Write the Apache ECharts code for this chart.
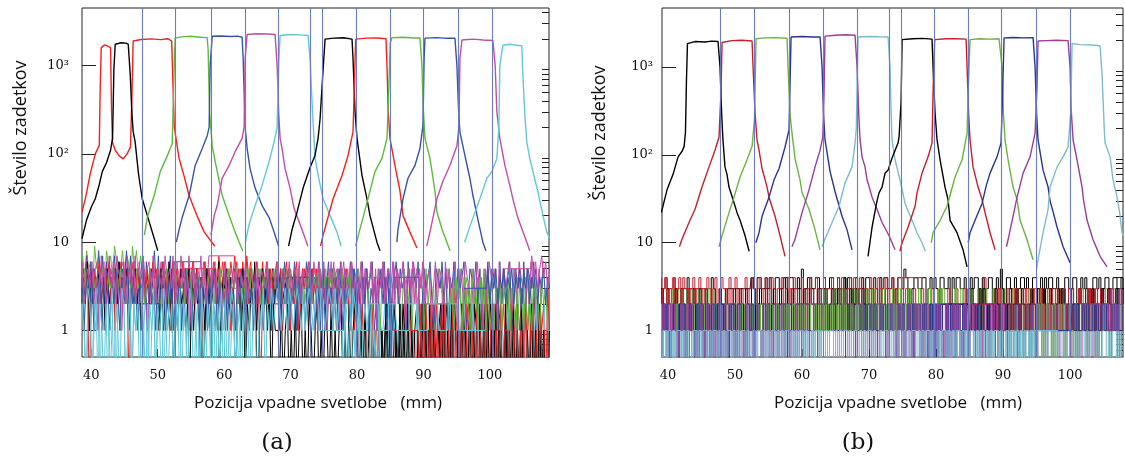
<!DOCTYPE html>
<html><head><meta charset="utf-8">
<script src="https://cdn.jsdelivr.net/npm/echarts@6/dist/echarts.min.js"></script>
<style>html,body{margin:0;padding:0;background:#fff}#c{width:1125px;height:460px}</style>
</head><body><div id="c"></div>
<script>
// ---------- data ----------
const xTicks = [40, 50, 60, 70, 80, 90, 100];
const xTickLabels = ['40', '50', '60', '70', '80', '90', '100'];
const yMajor = [1, 10, 100, 1000];
const yTickLabels = ['1', '10', '10²', '10³'];
const yMinor = [0.6, 0.7, 0.8, 0.9, 2, 3, 4, 5, 6, 7, 8, 9, 20, 30, 40, 50, 60, 70, 80, 90, 200, 300, 400, 500, 600, 700, 800, 900, 2000, 3000, 4000];
const linesA = [47.6, 52.7, 58.0, 63.2, 68.2, 73.0, 74.8, 79.9, 85.0, 89.9, 95.3, 100.3];
const linesB = [47.8, 52.9, 58.1, 63.2, 68.2, 73.0, 74.8, 79.7, 84.8, 89.7, 95.0, 100.0];

// panel (a) channel profiles [mm, counts]
const a_red = [[38.6,22],[39.1,31],[39.85,60],[40.6,100],[41.2,125],[41.35,600],[41.5,1600],[42.0,1720],[42.5,1660],[42.9,1600],[43.05,300],[43.2,135],[43.6,110],[44.2,95],[44.8,88],[45.4,100],[45.9,120],[46.1,400],[46.3,1900],[47.5,1980],[49.0,2010],[50.5,1970],[51.5,2020],[52.1,1900],[52.3,600],[52.5,200],[53.2,90],[54.0,55],[54.7,34],[55.9,20],[57.0,13],[58.6,9]];
const a_black = [[38.6,11],[39.3,18],[40.0,25],[40.6,31],[41.2,45],[41.65,63],[42.3,80],[42.9,110],[43.2,150],[43.4,900],[43.6,1750],[44.5,1820],[45.2,1800],[45.56,1750],[45.86,800],[46.1,300],[46.3,180],[46.6,137],[47.07,63],[47.2,53],[47.67,31],[48.72,17],[49.47,11],[50.0,8]];
const a_green = [[48.0,12],[48.42,19],[49.47,34],[50.38,63],[51.43,95],[52.18,130],[52.4,600],[52.63,2050],[53.5,2120],[55.0,2150],[56.5,2100],[57.44,2080],[57.59,1500],[57.8,300],[58.2,124],[58.65,82],[59.7,34],[60.75,20],[61.65,13],[62.26,10],[62.8,8]];
const a_blue = [[52.8,10],[53.23,14],[53.68,19],[54.74,34],[55.64,74],[56.7,115],[57.44,160],[57.74,200],[57.89,1000],[58.2,2150],[59.5,2170],[61.0,2140],[62.0,2160],[62.7,2100],[62.86,1200],[63.16,200],[63.46,115],[63.9,68],[64.66,41],[65.71,26],[66.77,19],[67.52,13],[68.2,9]];
const a_magenta = [[58.0,12],[58.5,20],[58.95,26],[59.7,53],[60.75,74],[61.65,106],[62.7,150],[63.0,200],[63.16,1200],[63.46,2250],[65.0,2300],[66.5,2280],[67.67,2250],[67.97,1000],[68.2,300],[68.42,150],[68.72,115],[69.17,68],[69.92,41],[70.53,24],[71.28,17],[72.03,12],[72.6,9]];
const a_cyan = [[63.2,10],[63.76,16],[64.66,26],[65.71,44],[66.77,82],[67.52,137],[67.97,200],[68.2,1000],[68.42,2200],[70.0,2250],[71.5,2230],[72.63,2200],[72.93,1200],[73.3,300],[73.68,90],[74.2,55],[74.89,31],[75.94,20],[76.99,13],[77.6,9]];
const a_black2 = [[69.7,9],[70.23,14],[70.98,22],[71.88,41],[72.93,70],[73.68,96],[74.14,150],[74.44,250],[74.89,900],[75.19,2000],[76.5,2050],[78.0,2070],[79.25,2000],[79.4,1200],[79.7,300],[80.0,150],[80.75,57],[81.5,31],[81.95,20],[83.0,10],[83.46,8]];
const a_red2 = [[74.5,9],[74.89,12],[76.4,31],[77.74,57],[78.65,96],[79.4,178],[79.6,600],[79.8,2000],[81.5,2050],[83.0,2060],[84.36,2020],[84.51,1000],[84.7,300],[84.96,150],[85.71,74],[86.47,38],[86.92,20],[87.97,13],[89.02,8.6]];
const a_green2 = [[79.8,9],[80.2,12],[81.65,31],[82.7,63],[83.76,89],[84.51,150],[84.8,600],[85.0,1800],[85.26,2080],[87.0,2100],[88.5,2060],[89.47,2060],[89.77,1000],[90.0,300],[90.23,150],[90.98,89],[91.73,38],[92.03,22],[92.8,14],[93.53,10],[94.0,8]];
const a_blue2 = [[86.0,10],[86.17,14],[86.92,31],[87.67,53],[88.72,74],[89.47,115],[89.92,208],[90.1,1200],[90.23,2050],[92.0,2080],[93.5,2040],[94.74,2050],[95.04,1000],[95.3,300],[95.49,178],[96.24,96],[96.99,53],[97.44,34],[98.2,18],[98.95,10],[99.4,8]];
const a_magenta2 = [[90.5,9],[90.98,13],[92.03,31],[92.93,49],[93.98,74],[95.04,124],[95.34,200],[95.49,1200],[95.79,1950],[97.5,2000],[99.0,1950],[100.45,1930],[100.8,1000],[101.05,300],[101.5,150],[102.26,74],[103.0,44],[103.46,31],[104.2,19],[105.56,10],[106.0,8]];
const a_cyan2 = [[96.2,10],[96.99,15],[98.5,31],[99.55,53],[100.3,63],[101.05,89],[101.35,200],[101.5,1000],[101.95,1700],[103.0,1750],[104.0,1700],[104.81,1680],[104.96,800],[105.3,250],[105.56,137],[106.0,89],[107.2,38],[108.0,20],[108.57,13],[109.0,11]];

// panel (a) background counts per 0.3 mm bin, [left of profile, right of profile]
const a_red_nz = ['', '5374625364735263746352436252413524132514231425314235142314253142315243141020110201201021012011020120102101201021012011203120213021203120312021301203121021302120312012031202130'];
const a_black_nz = ['', '21314213021423120314213024132140231421302413021432013241302110201201020120102101201021020101201020121010201201021012010201021012012010201021012012010201021012021010201201012010201020102101201020101'];
const a_green_nz = ['46357485639574638574963584763958474', '34253423524325243524325423524352342534253524325423524352435242531242315243125341253241532431524312534125314235124315234125341253142531425314253142'];
const a_blue_nz = ['36254736253847263547362548372645372635483726453726', '24362543615243625342615436253416254362514362534612543625134625341625436125346215436251436253461254362514362543162534612534162543612'];
const a_magenta_nz = ['462735472635627453726473562745372647356274536274537263745273645372637', '35264153624536251463526435162534625143625416352461352641536245136254163524613526431526341526435162534613526431526341526'];
const a_cyan_nz = ['12023102130212031201320120310213021301203120130213023102132013021302132013201302130213201302132013021320130213021302132013021302132013021302130213201302102', '10201201020121020102012010210120102010201201020120102102010201201021020102012010210120102012010201201020110'];
const a_black2_nz = ['342514352435261342532453142534261524352415243526143524352415342532415342615342534251435243152435261435242534152435261435243152435234', '01020100102010201001020102010010201020010201020100201020102010020102010200102010201001020'];
const a_red2_nz = ['25346253402534625346251346253046253462534625346253162534625346253046253462534625134625346253462034625346253462534612534625343', '10201102012010201020110201201020110201201020110201201021012010201101'];
const a_green2_nz = ['352425342534235424352435242534253452345243524352435423425342534235243524352435243523425435243524352453425342534253424352435243524352435243524', '2314231423142314241324132413241321432143214231423112'];
const a_blue2_nz = ['241352413251423142531423514231425314231524314251324135241325142314253142351423142531423152431425132413524132514231425314235142314253142315243142513241352413214', '35243524352435243524352435243524352'];
const a_magenta2_nz = ['362453624153624536254162453625436215362543624536254362413625436245362541362453625436245316254362453621543624536254362453625413624536254362453625436241536245362543624536254362', '574635746357'];
const a_cyan2_nz = ['1020310210320130210201302103201302120310201302103201202130210320120310210302130201320103210203102130213123212313212321312321231321232131232123132121111222221111122221111112222211111222221111122222111', ''];

// panel (b) channel profiles
const b_black = [[39.0,22],[39.85,40],[40.75,60],[41.5,95],[42.1,110],[42.4,125],[42.6,180],[42.75,700],[42.9,1850],[44.0,1950],[45.5,1930],[46.5,1970],[47.46,1950],[47.76,1000],[48.0,300],[48.2,148],[48.5,73],[48.8,60],[49.1,43],[49.7,31],[50.3,22],[50.75,18],[51.5,12],[52.1,8]];
const b_red = [[41.7,9],[42.09,11],[43.13,17],[44.03,24],[45.07,43],[46.12,73],[47.01,113],[47.61,160],[47.9,500],[48.06,1900],[49.5,2000],[51.0,2020],[52.54,1980],[52.69,1000],[52.99,300],[53.28,148],[53.58,113],[54.03,70],[54.78,43],[55.07,33],[55.97,20],[56.72,12],[57.46,7]];
const b_green = [[47.6,9],[48.06,12],[49.1,22],[49.85,33],[50.75,56],[51.79,88],[52.54,125],[52.9,250],[53.13,2100],[54.5,2150],[56.0,2160],[57.76,2130],[57.91,1000],[58.2,300],[58.5,177],[58.96,90],[59.7,52],[60.0,37],[61.04,24],[61.94,14],[62.69,8.3]];
const b_blue = [[53.1,10],[53.58,13],[54.03,20],[55.07,33],[55.82,52],[56.57,70],[57.46,123],[58.06,192],[58.36,2200],[60.0,2230],[61.5,2200],[62.69,2200],[62.99,1000],[63.2,300],[63.43,148],[64.18,65],[64.93,38],[65.97,20],[66.72,14],[67.46,8.3]];
const b_purple = [[58.5,9],[58.96,11],[60.0,22],[61.04,40],[61.94,73],[62.69,113],[63.1,160],[63.28,500],[63.43,2250],[65.0,2300],[66.5,2330],[67.91,2300],[68.21,1000],[68.5,250],[68.66,148],[68.96,95],[69.4,73],[69.7,52],[70.15,40],[70.45,33],[71.19,24],[71.94,17],[72.99,12],[73.88,8.3]];
const b_lblue = [[63.0,9],[63.43,11],[64.48,17],[65.52,26],[66.42,48],[67.46,73],[67.91,137],[68.1,200],[68.36,2200],[70.0,2230],[71.5,2210],[72.84,2200],[73.13,1000],[73.3,300],[73.43,148],[73.88,88],[74.63,52],[75.37,28],[76.42,18],[77.16,13],[77.91,10],[78.4,8]];
const b_black2 = [[69.85,7],[70.45,15],[70.75,20],[71.19,30],[71.49,37],[71.94,43],[72.39,62],[72.84,67],[73.43,92],[74.33,137],[74.48,160],[74.78,400],[74.93,2050],[76.5,2100],[78.0,2120],[79.4,2080],[79.55,1000],[79.85,300],[80.15,148],[80.6,88],[81.34,43],[81.79,31],[82.09,18],[83.13,13],[84.03,8.3],[84.63,5.3]];
const b_red2 = [[74.6,8],[74.93,10],[75.82,15],[76.87,26],[77.16,37],[77.91,62],[78.81,95],[79.4,137],[79.55,500],[79.8,2050],[81.5,2100],[83.0,2100],[84.48,2080],[84.63,1000],[84.85,300],[85.07,148],[85.52,73],[86.27,43],[86.87,31],[87.31,22],[88.06,13],[88.81,8.3]];
const b_green2 = [[79.3,10],[79.55,13],[80.6,18],[81.64,26],[82.84,56],[83.88,88],[84.63,177],[84.78,500],[85.07,2050],[86.5,2100],[88.0,2080],[89.4,2100],[89.85,1000],[90.05,300],[90.3,148],[90.75,88],[91.49,43],[92.09,31],[92.54,18],[93.58,10.8],[94.48,6.4]];
const b_blue2 = [[84.8,10],[85.07,13],[85.82,18],[86.87,28],[87.5,45],[88.06,62],[89.1,95],[89.7,137],[89.9,400],[90.15,2150],[91.5,2170],[93.0,2150],[94.48,2160],[94.78,1000],[95.0,300],[95.22,148],[95.97,67],[96.72,43],[97.01,30],[97.5,22],[98.06,15],[98.96,9],[100.0,5.9]];
const b_purple2 = [[90.5,9],[90.75,10.8],[91.49,20],[92.09,33],[92.99,62],[94.03,95],[94.78,177],[95.07,600],[95.22,1980],[96.5,2000],[98.0,2020],[99.7,2000],[100.0,1000],[100.2,300],[100.45,148],[101.04,88],[101.79,43],[102.0,31],[102.54,18],[103.43,10.8],[104.48,7],[105.52,5.3]];
const b_lblue2 = [[95.0,5],[95.22,6.4],[95.97,13],[96.72,24],[97.01,43],[98.06,73],[98.96,95],[99.7,123],[100.1,300],[100.3,1850],[101.5,1800],[103.0,1780],[104.48,1750],[104.78,800],[104.93,418],[105.1,200],[105.22,137],[105.97,95],[106.42,52],[107.01,33],[107.4,22],[107.76,13],[108.0,12]];

// panel (b) background counts per 0.3 mm bin
const b_black_nz = ['', '3432443343423443343244334352344334432433443243343442343342443343243443342344354323443344234343244334243443342343443243344234353244334234434324433424344334232443344234343324434234433442343423443'];
const b_red_nz = ['243324234332423', '2132312213123221321231132213212312231321121321232131221321323121321132212312132213212312231312213214221231321122132312213212321312213212312213122132121323121322131'];
const b_green_nz = ['21312321321231232132123123213212312321', '1231221312132122313211232131221321123213122131212312213211231321221312312123121321321231221321213122312132112312213212313211231221321312231212312132213'];
const b_blue_nz = ['12101121012110121121011210112101211012112101121012110121', '1211212112121121112121121211212111212112112121121211211212111212112121121211212112121112121121211211212112121121211212111212112121121'];
const b_purple_nz = ['121012110121011210121101210112101211012101121012110121011210121101210112101201', '1021012010211201021012010210120110210120102101201102101201021012011021012010210120110210120102101201021'];
const b_lblue_nz = ['1011010101101011010110101101011010110101101011010110101101011010110101101011010110101101101', '01011010110101101011010011010110101101001101011010110100110101101011010011010110101101001101011010'];
const b_black2_nz = ['2132143123213212312321421312321321431232132123123213214312321321231232142131232132143123213212312321421312321321', '21321231321221321321231232132112321321312321231321213212321321312213213212321321'];
const b_red2_nz = ['3243324234323423342342433234234323432342343324234232342343234324234323342342343224323423432342334234243234342342332432342343234234', '2132123121321231213212312132113121321231213212312132122121321231'];
const b_green2_nz = ['1211212112112121121121211211212112121121121211211212112121121121211211212112112121121121211212112112121121121211211212112121121121211211', '1021201210201212012102012120121020121201210201201'];
const b_blue2_nz = ['121021201210212012110212012102120121021201211021201210212012102120121102120121021201210212012110212012102120121021201211021201210212012102120121102120121021', '121211212112121121211212112'];
const b_purple2_nz = ['2101210212101210212110121021210121021210121102121012102121012102121101210212101210212101211021210121021210121021211012102121012102121012110212101210212101210212110121021210121', '213121321'];
const b_lblue2_nz = ['0101101010110101011010100110101101011010101101010110100101101010110101011010101101001011010101101010110101101010110100101101010110101011010101101001011010101101010110101101010110100101101010110101', ''];

// ---------- chart ----------
const BINW = 0.3, ZERO = 0.2;
function lvl(c) { return c === '0' ? ZERO : Number(c); }
function noiseData(knots, nz) {
  const s = knots[0][0], e = knots[knots.length - 1][0], L = nz[0], R = nz[1], out = [];
  for (let i = 0; i < L.length; i++) out.push([s - (L.length - i - 0.5) * BINW, lvl(L[i])]);
  out.push([(s + e) / 2, null]);
  for (let i = 0; i < R.length; i++) out.push([e + (i + 0.5) * BINW, lvl(R[i])]);
  return out;
}

const colA = ['#f42020', '#000000', '#5cbb3c', '#3553a8', '#c24ca8', '#62c8d8'];
const colB = ['#000000', '#c4202c', '#6cb33f', '#283592', '#9a3c9a', '#7dbccd'];
const panelA = [
  [a_red, a_red_nz, colA[0]], [a_black, a_black_nz, colA[1]], [a_green, a_green_nz, colA[2]],
  [a_blue, a_blue_nz, colA[3]], [a_magenta, a_magenta_nz, colA[4]], [a_cyan, a_cyan_nz, colA[5]],
  [a_black2, a_black2_nz, colA[1]], [a_red2, a_red2_nz, colA[0]], [a_green2, a_green2_nz, colA[2]],
  [a_blue2, a_blue2_nz, colA[3]], [a_magenta2, a_magenta2_nz, colA[4]], [a_cyan2, a_cyan2_nz, colA[5]]
];
const panelB = [
  [b_black, b_black_nz, colB[0]], [b_red, b_red_nz, colB[1]], [b_green, b_green_nz, colB[2]],
  [b_blue, b_blue_nz, colB[3]], [b_purple, b_purple_nz, colB[4]], [b_lblue, b_lblue_nz, colB[5]],
  [b_black2, b_black2_nz, colB[0]], [b_red2, b_red2_nz, colB[1]], [b_green2, b_green2_nz, colB[2]],
  [b_blue2, b_blue2_nz, colB[3]], [b_purple2, b_purple2_nz, colB[4]], [b_lblue2, b_lblue2_nz, colB[5]]
];

const serif = 'DejaVu Serif';
const sans = 'Open Sans';
function ylab(v) {
  const i = yMajor.findIndex(m => Math.abs(Math.log10(m) - Math.log10(v)) < 1e-6);
  return i >= 0 ? yTickLabels[i] : '';
}
function xlab(v) {
  const i = xTicks.findIndex(m => Math.abs(m - v) < 1e-6);
  return i >= 0 ? xTickLabels[i] : '';
}

const grids = [
  { left: 82, right: 576, top: 8, bottom: 103 },
  { left: 662, right: 2, top: 8, bottom: 103 }
].map(g => Object.assign(g, { show: true, borderColor: '#222', borderWidth: 1, backgroundColor: 'transparent', containLabel: false, outerBoundsMode: 'none' }));

const xRanges = [[38.6, 108.9], [39.1, 107.9]];
const yMaxes = [4500, 4700];
const yMargins = [13, 9];

const xAxes = xRanges.map((r, i) => ({
  gridIndex: i, type: 'value', min: r[0], max: r[1],
  axisLine: { show: false }, splitLine: { show: false },
  axisTick: { show: true, inside: true, length: 8, customValues: xTicks, lineStyle: { color: '#222' } },
  axisLabel: { customValues: xTicks, formatter: xlab, fontFamily: serif, fontSize: 13, color: '#111', margin: 12 }
}));
const yAxes = [];
[0, 1].forEach(i => {
  yAxes.push({
    gridIndex: i, type: 'log', logBase: 10, min: 0.5, max: yMaxes[i],
    axisLine: { show: false }, splitLine: { show: false },
    axisTick: { show: true, inside: true, length: 14, customValues: yMajor, lineStyle: { color: '#222' } },
    axisLabel: { customValues: yMajor, formatter: ylab, fontFamily: serif, fontSize: 13, color: '#111', margin: yMargins[i] }
  });
  yAxes.push({
    gridIndex: i, type: 'log', logBase: 10, min: 0.5, max: yMaxes[i],
    axisLine: { show: false }, splitLine: { show: false },
    axisTick: { show: true, inside: true, length: 7, customValues: yMinor, lineStyle: { color: '#222' } },
    axisLabel: { show: false }
  });
});

const series = [];
[[panelA, linesA], [panelB, linesB]].forEach((pl, p) => {
  const chans = pl[0];
  series.push({
    type: 'line', xAxisIndex: p, yAxisIndex: 2 * p, data: [], z: 1, silent: true,
    markLine: {
      silent: true, symbol: ['none', 'none'], label: { show: false }, animation: false,
      lineStyle: { color: '#6675bd', width: 1.1, type: 'solid', opacity: 0.95 },
      data: pl[1].map(v => ({ xAxis: v }))
    }
  });
  chans.forEach(ch => {
    series.push({
      type: 'line', xAxisIndex: p, yAxisIndex: 2 * p, data: noiseData(ch[0], ch[1]),
      step: 'middle', symbol: 'none', showSymbol: false, connectNulls: false, clip: true,
      lineStyle: { color: ch[2], width: 1 }, z: 2, silent: true
    });
  });
  chans.forEach(ch => {
    series.push({
      type: 'line', xAxisIndex: p, yAxisIndex: 2 * p, data: ch[0],
      symbol: 'none', showSymbol: false, clip: true,
      lineStyle: { color: ch[2], width: 1.4 }, z: 3, silent: true
    });
  });
});

const txt = (x, y, text, font, rot) => ({
  type: 'text', x: x, y: y, rotation: rot || 0, silent: true,
  style: { text: text, x: 0, y: 0, font: font, fill: '#111', textAlign: 'center', textVerticalAlign: 'middle' }
});

const chart = echarts.init(document.getElementById('c'), null, { renderer: 'canvas' });
chart.setOption({
  animation: false,
  backgroundColor: '#fff',
  grid: grids,
  xAxis: xAxes,
  yAxis: yAxes,
  series: series,
  graphic: [
    txt(318, 403, 'Pozicija vpadne svetlobe   (mm)', '17px "' + sans + '"'),
    txt(898, 403, 'Pozicija vpadne svetlobe   (mm)', '17px "' + sans + '"'),
    txt(21, 128, 'Število zadetkov', '18px "' + sans + '"', Math.PI / 2),
    txt(600, 133, 'Število zadetkov', '18px "' + sans + '"', Math.PI / 2),
    txt(277, 443, '(a)', '23px "' + serif + '"'),
    txt(858, 443, '(b)', '23px "' + serif + '"')
  ]
});
</script>
</body></html>
